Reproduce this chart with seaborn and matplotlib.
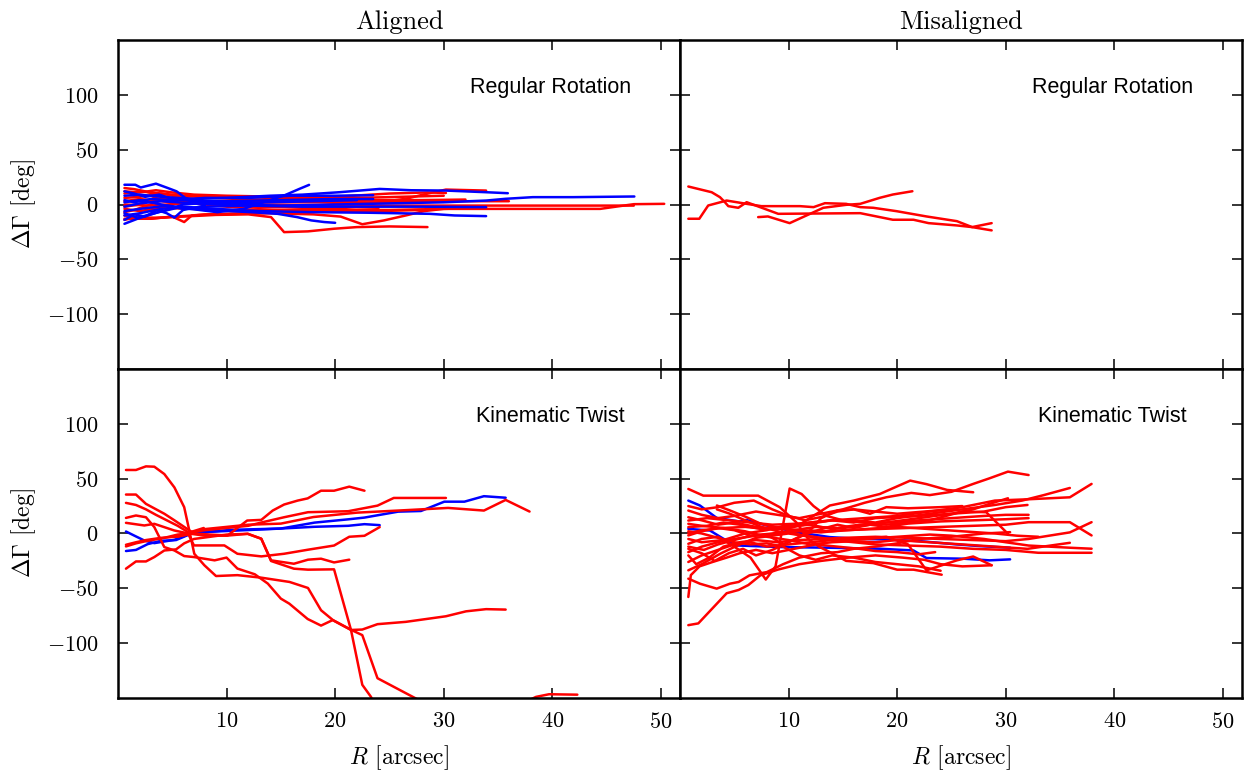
import matplotlib
matplotlib.use("Agg")
import matplotlib.pyplot as plt
import seaborn as sns
import pandas as pd
from matplotlib.ticker import FixedLocator, FuncFormatter

# ---------------- data (R [arcsec], dGamma [deg]) ----------------
col_titles = ["Aligned", "Misaligned"]
row_labels = ["Regular Rotation", "Kinematic Twist"]
x_ticks = [10, 20, 30, 40, 50]
y_ticks = [-100, -50, 0, 50, 100]

aligned_rr_blue = [
    [(0.6,18),(1.6,18),(2.1,15.5),(3.5,19),(4.6,15),(5.4,12),(6.2,6),(7.4,2),(10,1),(14,2),(18,3),(22,4)],
    [(0.6,-17.6),(1.8,-13),(3.7,-7),(5.5,-3),(7.1,-4.5),(9.15,-7),(11.6,-3.9),(13.4,2.1),(15.3,8.2),(16.7,14.2),(17.6,17.9)],
    [(0.6,-6),(2,-4),(4.6,-1),(6.1,-3),(8,-5),(10.1,-6),(12.3,-7),(14.7,-8.5),(16.5,-11.5),(17.8,-14.5),(19,-16),(20,-16.7)],
    [(0.6,-2),(2,1),(4,3),(7,1),(10,0),(15,-1),(20,0),(25,1),(30,2),(33.9,3.6),(35.7,5.2),(38.2,6.7),(41.9,6.7),(47.55,7.3)],
    [(0.6,8),(2,9),(4,7),(7,5),(10,6),(14,8),(17,9),(20.4,11.2),(22,12.5),(24.1,14.2),(27,13),(30.2,12.7),(33.9,11.2),(35.9,10.3)],
    [(0.6,-10),(2,-8),(4,-4),(6,-2),(9,-4),(13,-6),(18,-7),(23,-7.5),(28.7,-8.5),(31,-10),(33.9,-10.6)],
    [(0.6,2),(2,4),(4,0),(6,-4),(8,-2),(12,-1),(17,-2),(22,-2),(28,-2),(33.9,-2.4)],
    [(0.6,12),(1.5,10),(2.5,7),(3.8,9),(5,5),(7,3),(10,3),(15,4),(20,5),(23.5,5)],
    [(0.6,-14),(1.5,-9),(2.5,-11),(3.6,-5),(4.5,-8),(5.2,-12),(6,-5),(8,-1)],
    [(0.6,4),(1.5,2),(3,5),(5,4),(8,6),(12,6),(16,8),(20,8),(23.5,8.5)],
    [(0.6,-8),(1.8,-12),(3,-9),(4.5,-5),(6,0),(9,2),(12,3)],
]
aligned_rr_red = [
    [(0.6,-4),(2,-6),(4,-3),(7,-4),(10,-5),(15,-5),(20,-5),(25,-5),(30,-4),(35,-4),(40,-4),(44.4,-4),(47.5,0.3),(50.3,0.6)],
    [(0.6,3),(2,5),(5,2),(8,1),(12,0),(18,-1),(25,-1),(30,-1),(35,-1),(40,-1),(47.5,-1)],
    [(0.6,10),(2,12),(4,10),(6,6),(8,3),(11,0),(14,-2),(17,-3),(20,-4),(22,-2),(24,2),(26.5,5.2),(28.4,9.7),(30.2,13.6),(33.9,12.7)],
    [(0.6,-10),(2,-12),(4,-12),(6,-11),(9,-9.5),(12,-9),(14.1,-11.5),(15.3,-25.2),(17.5,-24.5),(19.9,-22.1),(22,-20.6),(25,-20),(28.5,-20.6)],
    [(0.6,-14),(1.5,-12),(3,-13),(5,-11),(6.1,-16),(6.8,-10),(8,-9),(12,-8),(16,-7),(20,-6),(24,-6),(28,-5)],
    [(0.6,6),(2,7),(4,10),(6,8),(9,6),(13,4),(18,3),(23,4),(28,4),(32,4.5)],
    [(0.6,-7),(1.5,-5),(3,0),(4,4),(6,7),(8,8),(11,7),(14,6),(18,6),(22,6),(26,7),(30,8)],
    [(0.6,12),(2,11),(3.5,13),(5,11),(7,9),(10,8),(15,7),(20,7),(25,10),(28.5,11),(30.2,10.5)],
    [(0.6,-13),(3,-13),(4.6,-11.5),(7.7,-9.5),(11,-8.5),(14,-8),(18,-9),(20.5,-11),(22.5,-18),(24.5,-14.5),(26.5,-10),(28.2,-6),(30,-4),(33.9,-3)],
    [(0.6,0),(3,-1),(6,1),(10,2),(15,2),(20,2),(25,2),(30,3),(33,3),(36,3)],
    [(0.6,15),(1.5,14),(2.5,12),(4,8),(6,3),(9,0),(14,-2),(20,-2),(24,-3)],
    [(0.6,-2),(2,0),(3.3,6),(5,4),(7,1),(10,-2),(13,-3),(18,-1),(21,1)],
]
misaligned_rr_blue = []
misaligned_rr_red = [
    [(0.77,16.4),(2.92,11.2),(3.68,6.7),(4.14,2.1),(4.45,-1.5),(5.37,-3.0),(6.14,2.1),(7.37,-2.4),(9.05,-8.5),(16.6,-7.9),(19.6,-13.9),(21.5,-13.9),(22.9,-17),(25.5,-19.1),(26.9,-20.6),(28.7,-17)],
    [(0.77,-13),(1.78,-13),(2.6,-0.9),(4.3,3.6),(6.14,0.6),(7.5,-1.5),(11.05,-1.5),(12.3,-2.4),(13.35,1.2),(15.3,0.6),(16.6,-2.4),(17.8,-3),(19.95,-6.1),(22.7,-10.9),(25.5,-15.2),(26.9,-20.6),(28.7,-23.6)],
    [(7.2,-11.5),(8.1,-10.9),(10.1,-17),(13.2,-3),(15.3,-0.3),(16.6,0.6),(18.4,6.1),(19.6,9.1),(21.4,12.1)],
]
aligned_kt_blue = [
    [(0.74,1.8),(1.66,-2.7),(2.43,-6.4),(3.35,-8.8),(5.2,-5.8),(6.7,0),(10.4,3.3),(15.0,4.5),(18.1,6.1),(21.2,7),(22.7,8.5),(24.1,7.6)],
    [(0.74,-16),(1.66,-15),(2.74,-9.7),(3.96,-6.7),(5.35,-6),(7.0,0.9),(10.4,2.4),(15,4.5),(18.1,9.9),(21.2,12.9),(22.7,14.5),(25.8,19.9),(27.9,20.5),(30.05,29),(31.9,29),(33.7,34),(35.7,32.6)],
]
aligned_kt_red = [
    [(0.74,57.9),(1.66,57.9),(2.58,61.2),(3.35,60.9),(4.27,54.2),(5.2,42),(6.1,24),(6.57,2.7),(7.03,-18.5),(7.96,-29),(9.03,-38.8),(11.0,-38),(13.2,-40.3),(15.8,-44.2),(17.5,-49.7),(18.7,-70),(19.8,-79),(21.5,-88),(22.5,-92.7),(23.9,-132),(27.4,-150.3),(28.5,-156)],
    [(0.74,35.5),(1.66,35.5),(2.58,27),(4.27,18),(5.2,12),(6.1,6),(7.0,0),(8.5,-1),(10.1,-1.8),(11.0,5),(11.9,11.8),(13.2,12.4),(14.25,20.9),(15.3,26.4),(16.55,30),(17.47,32),(18.7,39),(19.9,39),(21.3,42.7),(22.7,39)],
    [(0.74,27.9),(1.66,26),(2.58,22),(3.5,17),(4.5,12),(5.5,7),(6.5,1),(8,3),(10,5),(12,7),(13.2,10),(15.3,14.8),(17.5,19.4),(21.2,20.3),(23.9,25.4),(25.4,32.4),(27.3,32.4),(30.2,32.4)],
    [(0.74,14.2),(1.66,16.4),(2.58,14.8),(3.35,5.8),(4.27,-12.4),(5.2,-15.5),(6.1,-20.6),(7.0,-21.5),(8.9,-24.5),(10.0,-22),(11.0,-32),(12.6,-37.2),(13.8,-45.7),(15.0,-59.4),(15.78,-64),(17.47,-78),(18.7,-84),(19.77,-79),(21.46,-88),(22.5,-87.6),(23.9,-82.7),(26.5,-80.6),(30.2,-75.5),(32.05,-71),(33.9,-69),(35.7,-69.4)],
    [(0.74,9.7),(2.43,7.3),(3.35,8.8),(5.2,2.7),(6.5,0),(8,4),(10,6),(12,8),(15,9),(18,15),(22,19),(26,21),(30.4,23.3),(33.7,20.9),(35.7,30.6),(37.9,20)],
    [(0.74,-10.3),(1.66,-8),(2.58,-6),(3.96,-4),(5.35,-3),(6.5,-1),(7.0,-10.9),(9.8,-10.9),(11.0,-18.5),(13.2,-20.9),(15.3,-18.5),(17.5,-14.8),(19.9,-11),(21.3,-3),(22.7,-2.1),(24.1,5.8)],
    [(0.74,-11.8),(1.66,-9),(2.58,-7),(4.27,-4),(5.5,-1),(6.5,0),(8,-2),(10,-2),(11.95,-0.3),(13.2,-4.8),(14.1,-24.5),(16.2,-27.6),(17.5,-23.9),(18.7,-23),(19.9,-26.4),(21.3,-23.9)],
    [(0.74,-32.1),(1.66,-25.5),(2.58,-25.5),(3.35,-21.5),(4.27,-15.5),(5.35,-14.5),(6.1,-9),(7.0,-5),(8.5,-3),(10,-1),(11.95,-0.3),(13.2,-4.8),(14.1,-25.1),(16.2,-32.1),(17.5,-33),(19.9,-32.7),(21.46,-88),(22.5,-138),(23.3,-149),(23.6,-156)],
    [(5.5,-3),(6.6,1),(7.9,5)],
    [(37.0,-156),(38.5,-149),(39.7,-146.6),(42.3,-147)],
]
misaligned_kt_blue = [
    [(0.77,30),(1.84,25.5),(3.38,14.2),(5.5,10.9),(6.1,12.4),(8.0,7.3),(10.7,1.2),(13.8,-3.3),(16.3,-4.8),(19.0,-5.5),(22.1,-7),(25.5,-10),(27.6,-11.5),(30.4,-13)],
    [(0.77,4.2),(2.76,2.7),(4.0,-4.8),(5.2,-10.9),(9.2,-12.4),(13.8,-13),(18.4,-13.9),(21.5,-15.5),(22.7,-22.4),(26.1,-23),(28.5,-24.5),(30.4,-23.6)],
]
misaligned_kt_red = [
    [(0.77,40.6),(2.15,34.5),(4.45,34.5),(7.2,34.5),(9.2,23.9),(10.7,10.3),(11.8,-4.8),(12.8,-12),(14,-18),(15.3,-25),(17.8,-27),(20,-33),(21.5,-33),(24.1,-37.6)],
    [(0.77,20.9),(2,17),(3.5,14),(5,16),(7,20),(9,17),(11,14),(13,18),(15,22),(17,28),(19,33),(21.3,37),(23,35),(25,38),(27,45.2),(28.5,50.3),(30.2,56.4),(32.1,53.3)],
    [(0.77,14.8),(2,12),(3.5,8),(5,10),(7,6),(9,4),(11,8),(13.8,25.5),(16,30),(18.4,36),(21.2,48.2),(22.7,45),(24.6,39.7),(27,37.6)],
    [(0.77,11.8),(2.5,14),(4.5,12),(6.5,10),(8.5,8),(11,9),(14,12),(17,14),(20,16),(23,20),(26,24),(29,30),(32.1,31.2),(35.9,33),(37.9,45.2)],
    [(0.77,8.8),(2,7),(4,5),(6,6),(8,4),(10,5),(12,9),(14,12),(16,12),(18,10),(20,14),(23,18),(26,22),(29,26),(31.5,30),(33.5,35),(35.9,41.5)],
    [(0.77,5.8),(2.5,7),(4,10),(5.5,8),(7.5,4),(9.5,6),(12,8),(14,4),(16,6),(19,10),(22,14),(25,18),(27,22),(28.5,27),(30.2,32.1)],
    [(0.77,-1.8),(2,2),(3.5,5),(5,3),(6.5,-2),(8.5,0),(10.5,3),(12.5,6),(14.5,5),(16.5,8),(19,10),(22,12),(25,14),(28,16),(30,17),(32.1,17)],
    [(0.77,-9.4),(2,-5),(3.5,-3),(5,-12),(6.5,-22),(7.9,-42),(8.8,-30),(10.1,41),(11.2,36),(12.3,25),(13.5,16),(15,12),(17,10),(19,8),(21,10),(23,12),(26,20),(28.2,19.4),(30.2,-0.3)],
    [(0.77,-17),(2,-12),(3.5,-8),(5,-5),(7,-2),(9,0),(11,2),(13,1),(15,3),(18,4),(21,5),(24,6),(27,7),(30,8),(32.1,10.3),(35.9,10.3),(37.9,-1.8)],
    [(0.77,-20),(1.5,-28),(2.7,-22),(4,-12),(5.5,-8),(7,-6),(9,-8),(11,-6),(13,-5),(15,-4),(18,-3),(21,-4),(24,-5),(27,-6),(30,-7),(32.1,-5),(35.9,1),(37.9,10.3)],
    [(0.77,-26),(2,-20),(3.5,-15),(5,-10),(6.5,-8),(8,-12),(10,-10),(12,-8),(14,-6),(17,-5),(20,-3),(23,-1),(25,-2),(28,-5),(30,-8),(32.1,-11),(35.9,-13),(37.9,-13.9)],
    [(0.77,-33.6),(2,-28),(3.8,-18),(5.5,-10),(7,-4),(8.5,-2),(10,0),(12,-3),(14,-6),(16,-8),(18,-10),(21,-11),(24,-12),(27,-14),(30,-15),(33,-17.6),(37.9,-17.6)],
    [(0.77,-41.2),(1.84,-45.8),(3.38,-50.3),(4.6,-45.8),(5.4,-44.2),(6.4,-38.2),(8,-35.2),(9.5,-28),(11,-22),(13,-18),(14.5,-17),(16,-14),(18,-12),(20,-9),(22,-5),(25,-3),(28,0),(30.4,1.2)],
    [(0.77,-57.9),(1.0,-38),(1.8,-30),(3,-26),(4.3,-22),(5.5,-18),(7,-15),(8.5,-18),(10.5,-14),(12.5,-10),(14.5,-12),(16.5,-14),(18,-16),(20,-17),(22,-19),(23.5,-17)],
    [(0.77,-83.6),(1.69,-82),(4.3,-54.5),(5.4,-51.5),(6.3,-47),(7.4,-38.2),(9,-33),(11,-28),(13,-25),(15.5,-22),(18,-20),(20.5,-22),(22.5,-24),(24,-28),(26,-30),(28.7,-29)],
    [(0.77,25),(2,22),(3.5,24),(5,28),(6.8,30),(8.5,22),(10,16),(11.5,12),(13,15),(14.5,20),(16,22),(18,20),(20,18),(22.5,20),(25.5,22.4)],
    [(3.4,22),(4.6,18),(6,12),(7.5,6),(9,2),(11,-1),(13,-4),(15,-6),(17,-5),(19,-3),(21,-10),(22.7,-33.6),(25.5,-24.5),(27,-21),(28.7,-29)],
    [(0.77,-12),(2.2,-15),(3.5,-10),(5,-6),(6.5,-2),(8,-1),(9.5,-10),(11,-3),(12,3),(13,14),(14.5,21),(16,22),(17.5,18),(19,24),(21,23),(24,24),(26,25)],
    [(0.77,2),(2,0),(3.5,-4),(5,-8),(6.5,-10),(8,-9),(9.5,-12),(11,-20),(12.5,-24),(14,-20),(16,-22),(18,-26),(20,-28),(22,-30),(24,-34)],
    [(0.77,0),(2,3),(4,5),(6,2),(8,-3),(10,-6),(12,-10),(14,-8),(16,-7),(18,-8),(20,-6),(23,-8),(26,-10),(29,-12),(32,-14),(35.9,-8.5)],
    [(0.77,-5),(2,-8),(4,-6),(6,0),(8,3),(10,8),(12,10),(14,12),(16,10),(18,14),(20,15),(22,16),(25,18),(28,20),(30,24),(32,26)],
    [(3.4,25.5),(4.6,21),(6.1,15),(7.4,9),(9,5),(11,3),(14,2),(17,4),(20,6),(23,4),(26,2),(29,0),(31,-2),(33,-3)],
    [(0.77,-14),(2,-18),(3.2,-25),(4.5,-18),(5.8,-14),(7,-20),(8.5,-15),(10,-8),(11.5,-1),(13,4),(14.5,8),(16,5),(17.5,8),(19,6),(21,9),(24,11),(27,12),(30,13),(32.1,14)],
]

panels = {
    (0, 0): (aligned_rr_blue, aligned_rr_red, ("red", "blue")),
    (0, 1): (misaligned_rr_blue, misaligned_rr_red, ("blue", "red")),
    (1, 0): (aligned_kt_blue, aligned_kt_red, ("blue", "red")),
    (1, 1): (misaligned_kt_blue, misaligned_kt_red, ("blue", "red")),
}

# ---------------- style ----------------
sns.set_theme(style="ticks")
plt.rcParams.update({
    "font.family": "serif",
    "font.serif": ["cmr10", "DejaVu Serif"],
    "mathtext.fontset": "cm",
    "axes.unicode_minus": False,
    "axes.linewidth": 1.8,
    "axes.edgecolor": "black",
    "text.color": "black",
    "axes.labelcolor": "black",
    "xtick.color": "black",
    "ytick.color": "black",
})

fig, axes = plt.subplots(2, 2, figsize=(12.52, 7.83), dpi=100, sharex=True, sharey=True)
fig.subplots_adjust(left=0.0942, right=0.992, top=0.9489, bottom=0.1086, wspace=0, hspace=0)

palette = {"blue": "#0000ff", "red": "#ff0000"}
for (r, c), (blues, reds, order) in panels.items():
    ax = axes[r, c]
    rows = []
    lid = 0
    groups = {"blue": blues, "red": reds}
    for kind in order:
        for line in groups[kind]:
            for x, y in line:
                rows.append({"R": x, "dG": y, "kind": kind, "lid": lid})
            lid += 1
    df = pd.DataFrame(rows)
    kinds = [k for k in order if k in set(df["kind"])]
    sns.lineplot(data=df, x="R", y="dG", hue="kind", hue_order=kinds, units="lid",
                 estimator=None, sort=False, palette=palette, lw=1.8, legend=False, ax=ax)
    ax.set_xlim(0, 51.75)
    ax.set_ylim(-150, 150)
    ax.xaxis.set_major_locator(FixedLocator(x_ticks))
    ax.yaxis.set_major_locator(FixedLocator(y_ticks))
    ax.xaxis.set_major_formatter(FuncFormatter(lambda v, p: f"${v:g}$"))
    ax.yaxis.set_major_formatter(FuncFormatter(lambda v, p: f"${v:g}$"))
    ax.tick_params(axis="both", direction="in", length=7, width=1.1, top=True, right=True,
                   labelsize=16, color="black", labelcolor="black")
    ax.tick_params(axis="x", pad=10)
    ax.tick_params(axis="y", pad=14)
    ax.set_xlabel("")
    ax.set_ylabel("")
    ax.text(0.77, 0.857, row_labels[r], transform=ax.transAxes, ha="center", va="center",
            fontsize=15.5, family="Liberation Sans", color="black")
    if r == 0:
        ax.set_title(col_titles[c], fontsize=19, pad=8, color="black")
    if r == 1:
        ax.set_xlabel(r"$R$ [arcsec]", fontsize=17, labelpad=8)
    if c == 0:
        ax.set_ylabel(r"$\Delta\Gamma$ [deg]", fontsize=17, labelpad=6)
    for s in ax.spines.values():
        s.set_visible(True)
        s.set_color("black")

fig.savefig("out.png", dpi=100)
